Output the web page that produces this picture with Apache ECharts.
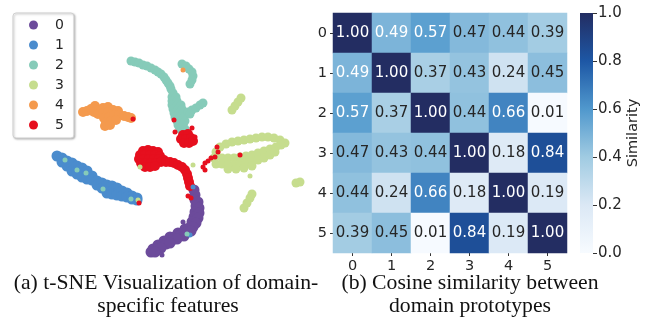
<!DOCTYPE html>
<html>
<head>
<meta charset="utf-8">
<script src="https://cdn.jsdelivr.net/npm/echarts@6/dist/echarts.min.js"></script>
<style>
  html, body { margin: 0; padding: 0; background: #fff; }
  #chart { width: 650px; height: 320px; }
</style>
</head>
<body>
<div id="chart"></div>
<script>
// domain labels
var domains = ['0', '1', '2', '3', '4', '5'];

// cosine similarity between domain prototypes (row = y, col = x)
var simRows = [
  [1.00, 0.49, 0.57, 0.47, 0.44, 0.39],
  [0.49, 1.00, 0.37, 0.43, 0.24, 0.45],
  [0.57, 0.37, 1.00, 0.44, 0.66, 0.01],
  [0.47, 0.43, 0.44, 1.00, 0.18, 0.84],
  [0.44, 0.24, 0.66, 0.18, 1.00, 0.19],
  [0.39, 0.45, 0.01, 0.84, 0.19, 1.00]
];

// colorbar ticks
var barTicks = [0, 0.2, 0.4, 0.6, 0.8, 1.0];

// t-SNE embedding (main clusters)
var tsne0 = [[194,190],[195,195],[195,200],[198,202],[196,206],[199,208],[195,212],[199,213],[194,217],[198,218],
  [192,222],[196,223],[185,229],[189,228],[193,227],[178,233],[182,233],[187,232],[191,231],[170,237],[174,237],
  [179,236],[184,236],[164,241],[168,241],[172,240],[177,239],[158,245],[162,245],[166,244],[170,243],[153,249],
  [157,249],[161,248],[151,252],[155,252]];
var tsne1 = [[57,156],[62,158],[62,162],[67,161],[67,166],[72,163],[72,168],[72,171],[77,166],[77,171],[77,174],
  [82,168],[82,173],[82,177],[87,171],[87,176],[87,179],[92,176],[92,180],[97,181],[97,185],[102,183],[102,188],
  [107,185],[107,190],[107,193],[112,186],[112,191],[112,194],[117,188],[117,193],[117,195],[122,191],[122,196],
  [127,193],[127,197],[132,196],[132,199],[137,198],[137,200]];
var tsne2 = [[131,61],[135,62],[139,63],[143,65],[147,66],[151,68],[155,70],[158,72],[161,74],[164,77],[166,80],
  [168,83],[170,86],[171,89],[173,93],[172,97],[176,97],[172,101],[177,101],[172,105],[177,105],[181,105],
  [173,109],[178,109],[182,109],[174,113],[179,113],[183,113],[175,117],[180,117],[184,117],[177,121],[181,121],
  [185,121],[178,125],[183,125],[180,129],[185,129],[184,132],
  [188,112],[192,110],[196,108],[200,105],[203,103],[190,114],
  [182,64],[186,66],[189,69],[192,72],[193,76],[192,80],[190,84]];
var tsne3 = [[220,147],[226,144],[232,142],[238,141],[244,140],[250,139],[256,138],[262,137],[268,137],[274,138],
  [280,140],[285,143],
  [222,158],[228,158],[234,158],[240,157],[246,156],[252,155],[258,153],[264,151],[270,149],[276,147],[281,145],
  [216,164],[222,164],[228,165],[234,165],[240,164],[246,163],[252,162],[258,160],[264,158],[270,155],[275,152],
  [228,169],[236,169],[244,168],[252,166],
  [214,158],[216,152],
  [232,110],[235,106],[238,102],[241,98],[296,183],[300,182],[244,208],[247,203],[250,198],[252,194]];
var tsne4 = [[83,112],[87,111],[91,109],[95,106],[94,112],[99,110],[103,108],[108,107],[98,114],[103,113],
  [108,112],[113,110],[118,111],[104,118],[109,117],[114,115],[119,115],[124,116],[128,117],[131,118],
  [106,122],[111,121],[116,120],[105,126],[110,125]];
var tsne5 = [[143,151],[148,150],[153,151],[158,152],[140,155],[145,155],[150,155],[155,155],[160,156],
  [139,159],[144,159],[149,159],[154,159],[159,159],[164,160],[141,163],[146,163],[151,163],[156,163],
  [161,162],[166,162],[145,167],[150,167],[155,166],
  [170,162],[174,163],[178,165],[182,167],[185,170],[187,174],[188,178],[189,182],[190,186],
  [183,135],[188,134],[181,139],[186,139],[191,138],[184,143],[189,143],[193,141]];

// stray single points
var stray0 = [[183,222],[158,253],[162,255]];
var stray1 = [[193,187],[190,235]];
var stray2 = [[65,160],[77,170],[86,173],[103,189],[131,199],[187,234]];
var stray3 = [[250,176],[140,167],[193,165],[138,200]];
var stray4 = [[183,70]];
var stray5 = [[174,120],[175,132],[192,128],[195,137],[133,119],[217,147],[218,152],[215,157],[211,158],
  [208,161],[205,163],[203,167],[205,170],[240,155],[188,196],[191,198],[139,203]];

var clusterColors = ['#6c4b9b', '#4b8ccd', '#86cbb9', '#c6dd8e', '#f49a4e', '#e60f1e'];
var clusterSizes = [11, 11, 9, 9, 10, 10];
var cmap = ['#f7fbff', '#dbe8f5', '#a0cbe2', '#5098cd', '#1d57a5', '#232d62'];
var sans = 'DejaVu Sans';
var serifFont = '21.7px "Liberation Serif"';
var ink = '#262626';

var chart = echarts.init(document.getElementById('chart'), null, { renderer: 'canvas' });

var mainSets = [tsne0, tsne1, tsne2, tsne3, tsne4, tsne5];
var straySets = [stray0, stray1, stray2, stray3, stray4, stray5];

var series = [];
mainSets.forEach(function (pts, i) {
  series.push({
    name: domains[i], type: 'scatter', xAxisIndex: 0, yAxisIndex: 0,
    data: pts, symbolSize: clusterSizes[i],
    itemStyle: { color: clusterColors[i], opacity: 1 }, silent: true
  });
});
straySets.forEach(function (pts, i) {
  series.push({
    name: domains[i], type: 'scatter', xAxisIndex: 0, yAxisIndex: 0,
    data: pts, symbolSize: 5,
    itemStyle: { color: clusterColors[i], opacity: 1 }, silent: true
  });
});

var heatData = [];
simRows.forEach(function (row, y) {
  row.forEach(function (v, x) { heatData.push([x, y, v]); });
});
var heatIndex = series.length;
series.push({
  type: 'heatmap', xAxisIndex: 1, yAxisIndex: 1, data: heatData,
  label: {
    show: true,
    formatter: function (p) {
      var v = p.value[2];
      return (v > 0.48 ? '{w|' : '{d|') + v.toFixed(2) + '}';
    },
    rich: {
      w: { color: '#ffffff', fontSize: 15, fontFamily: sans },
      d: { color: ink, fontSize: 15, fontFamily: sans }
    }
  },
  itemStyle: { borderWidth: 0 },
  emphasis: { disabled: true }
});

var stops = cmap.map(function (c, i) { return { offset: i / (cmap.length - 1), color: c }; });
series.push({
  type: 'bar', xAxisIndex: 2, yAxisIndex: 2, data: [1], barWidth: '100%', silent: true,
  itemStyle: { color: new echarts.graphic.LinearGradient(0, 1, 0, 0, stops) }
});

var option = {
  animation: false,
  backgroundColor: '#fff',
  legend: {
    data: domains,
    orient: 'vertical',
    left: 13, top: 13,
    padding: [5, 10, 6, 16],
    itemWidth: 9, itemHeight: 9, itemGap: 6,
    icon: 'circle',
    textStyle: { fontFamily: sans, fontSize: 14, color: ink, lineHeight: 14, padding: [0, 0, 0, 12] },
    backgroundColor: '#fff',
    borderColor: '#d0d0d0', borderWidth: 1, borderRadius: 3,
    shadowColor: 'rgba(0,0,0,0.25)', shadowBlur: 2, shadowOffsetX: 1, shadowOffsetY: 1,
    selectedMode: false
  },
  grid: [
    { left: 0, top: 0, width: 650, height: 320 },
    { left: 333, top: 13, width: 234, height: 240 },
    { left: 580, top: 13, width: 13, height: 240 }
  ],
  xAxis: [
    { gridIndex: 0, type: 'value', min: 0, max: 650, show: false },
    {
      gridIndex: 1, type: 'category', data: domains,
      axisLine: { show: false }, splitLine: { show: false },
      axisTick: { show: true, alignWithLabel: true, length: 3, lineStyle: { color: '#333' } },
      axisLabel: { fontFamily: sans, fontSize: 14.5, color: ink, margin: 6 }
    },
    { gridIndex: 2, type: 'category', data: ['cb'], show: false }
  ],
  yAxis: [
    { gridIndex: 0, type: 'value', min: 0, max: 320, inverse: true, show: false },
    {
      gridIndex: 1, type: 'category', data: domains, inverse: true,
      axisLine: { show: false }, splitLine: { show: false },
      axisTick: { show: true, alignWithLabel: true, length: 3, lineStyle: { color: '#333' } },
      axisLabel: { fontFamily: sans, fontSize: 14.5, color: ink, margin: 6 }
    },
    {
      gridIndex: 2, type: 'value', position: 'right', min: 0, max: 1, interval: 0.2,
      axisLine: { show: false }, splitLine: { show: false },
      axisTick: { show: true, length: 4, lineStyle: { color: '#333' } },
      axisLabel: {
        fontFamily: sans, fontSize: 15, color: ink, margin: 5,
        formatter: function (v) { return barTicks.indexOf(v) >= 0 ? v.toFixed(1) : ''; }
      },
      name: 'Similarity', nameLocation: 'middle', nameRotate: 90, nameGap: 32,
      nameTextStyle: { fontFamily: sans, fontSize: 14.5, color: ink }
    }
  ],
  visualMap: {
    show: false, type: 'continuous', min: 0, max: 1, seriesIndex: heatIndex, dimension: 2,
    inRange: { color: cmap }
  },
  graphic: [
    { type: 'text', x: 166, y: 283, style: { text: '(a) t-SNE Visualization of domain-', fill: '#111', font: serifFont, align: 'center', verticalAlign: 'middle' } },
    { type: 'text', x: 168, y: 306, style: { text: 'specific features', fill: '#111', font: serifFont, align: 'center', verticalAlign: 'middle' } },
    { type: 'text', x: 470, y: 283, style: { text: '(b) Cosine similarity between', fill: '#111', font: serifFont, align: 'center', verticalAlign: 'middle' } },
    { type: 'text', x: 470, y: 306, style: { text: 'domain prototypes', fill: '#111', font: serifFont, align: 'center', verticalAlign: 'middle' } }
  ],
  series: series
};

chart.setOption(option);
</script>
</body>
</html>
